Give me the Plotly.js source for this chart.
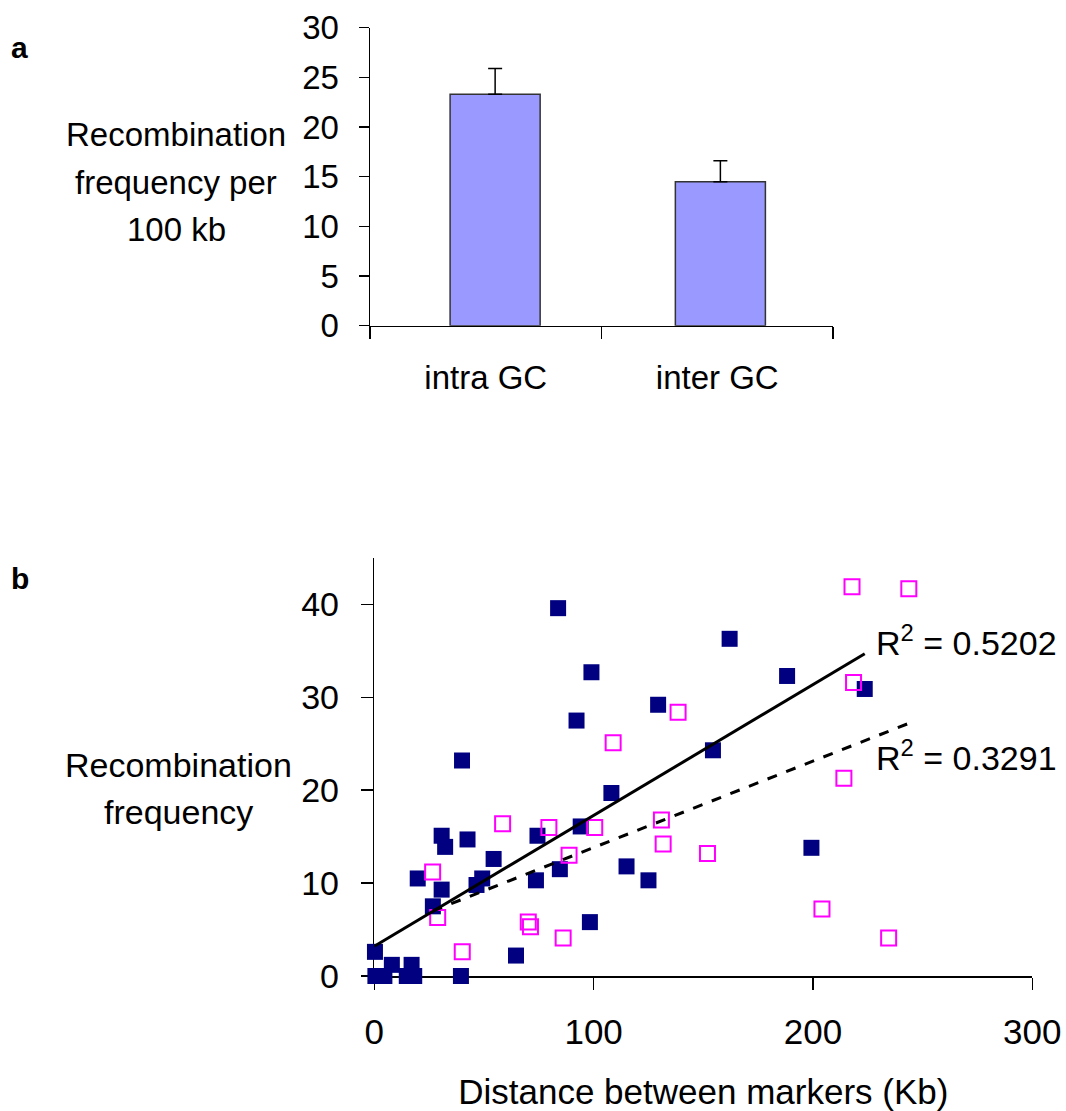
<!DOCTYPE html>
<html>
<head>
<meta charset="utf-8">
<script src="https://cdn.plot.ly/plotly-3.0.1.min.js"></script>
<style>
  html, body { margin: 0; padding: 0; background: #ffffff; }
  #chart { width: 1066px; height: 1111px; }
</style>
</head>
<body>
<div id="chart"></div>
<script>
// ---- Panel a: bar chart data ----
var barCategories = ['intra GC', 'inter GC'];
var barValues = [23.3, 14.5];
var barErrors = [2.6, 2.1];

// ---- Panel b: scatter data ----
var intraX = [83.8, 99.0, 129.4, 92.2, 40.0, 108.1, 30.7, 32.3, 42.5, 74.4, 94.1, 54.4,
              19.8, 30.7, 49.2, 46.6, 73.7, 84.6, 115.0, 125.0, 26.7, 98.3, 64.6, 0.3,
              0.5, 4.6, 8.0, 17.0, 14.8, 18.2, 39.5,
              162.0, 188.2, 223.6, 154.4, 199.3];
var intraY = [39.6, 32.7, 29.2, 27.5, 23.2, 19.7, 15.1, 13.9, 14.7, 15.1, 16.1, 12.6,
              10.5, 9.3, 10.5, 9.8, 10.3, 11.5, 11.8, 10.3, 7.5, 5.8, 2.2, 2.6,
              0, 0, 1.2, 1.2, 0, 0, 0,
              36.3, 32.3, 30.9, 24.3, 13.8];

var interX = [138.5, 108.9, 58.5, 79.6, 100.5, 88.8, 26.6, 28.9, 70.2, 71.2, 86.1,
              40.1, 130.9, 131.7, 217.8, 243.7, 218.5, 214.1, 151.9, 204.1, 234.5];
var interY = [28.4, 25.1, 16.4, 16.0, 16.0, 13.0, 11.2, 6.3, 5.8, 5.3, 4.1,
              2.6, 16.8, 14.2, 41.9, 41.7, 31.6, 21.3, 13.2, 7.2, 4.1];

// trend lines (end points)
var intraTrendX = [0, 223.6];
var intraTrendY = [3.2, 34.7];
var interTrendX = [26.6, 243.7];
var interTrendY = [7.0, 27.2];

var r2Labels = ['R<sup>2</sup> = 0.5202', 'R<sup>2</sup> = 0.3291'];

var FONT = 'Liberation Sans, Arial, Helvetica, sans-serif';

var traces = [
  {
    type: 'bar', x: barCategories, y: barValues, xaxis: 'x', yaxis: 'y',
    width: 0.389, offset: [-0.154, -0.181],
    marker: { color: '#9999FF', line: { color: '#333333', width: 1.5 } },
    error_y: { type: 'data', symmetric: false, array: barErrors, arrayminus: [0, 0],
               color: '#000000', thickness: 1.5, width: 7 },
    showlegend: false, hoverinfo: 'skip'
  },
  {
    type: 'scatter', mode: 'markers', x: intraX, y: intraY, xaxis: 'x2', yaxis: 'y2',
    marker: { symbol: 'square', size: 16, color: '#000080', line: { width: 0 } },
    cliponaxis: false, showlegend: false, hoverinfo: 'skip'
  },
  {
    type: 'scatter', mode: 'markers', x: interX, y: interY, xaxis: 'x2', yaxis: 'y2',
    marker: { symbol: 'square-open', size: 15, color: '#FF00FF', line: { width: 2, color: '#FF00FF' } },
    cliponaxis: false, showlegend: false, hoverinfo: 'skip'
  },
  {
    type: 'scatter', mode: 'lines', x: intraTrendX, y: intraTrendY, xaxis: 'x2', yaxis: 'y2',
    line: { color: '#000000', width: 3 }, showlegend: false, hoverinfo: 'skip'
  },
  {
    type: 'scatter', mode: 'lines', x: interTrendX, y: interTrendY, xaxis: 'x2', yaxis: 'y2',
    line: { color: '#000000', width: 3, dash: '10px,10px' }, showlegend: false, hoverinfo: 'skip'
  }
];

var axisCommon = {
  showline: true, linecolor: '#000000', linewidth: 1.5,
  ticks: 'outside', tickcolor: '#000000', tickwidth: 1.5,
  showgrid: false, zeroline: false, fixedrange: true
};

function ax(extra) { return Object.assign({}, axisCommon, extra); }

var W = 1066, H = 1111;
function px(x) { return x / W; }
function py(y) { return 1 - y / H; }

var layout = {
  width: W, height: H,
  margin: { l: 0, r: 0, t: 0, b: 0 },
  paper_bgcolor: '#ffffff', plot_bgcolor: 'rgba(0,0,0,0)',
  font: { family: FONT, color: '#000000' },
  showlegend: false,
  xaxis: ax({
    domain: [px(370), px(833)], anchor: 'y', type: 'category',
    range: [-0.5, 1.5], tickson: 'boundaries', ticklen: 12,
    tickfont: { family: FONT, size: 33, color: '#000000' }, ticklabelstandoff: 22
  }),
  yaxis: ax({
    domain: [py(325.7), py(27.7)], anchor: 'x',
    range: [0, 30], dtick: 5, tick0: 0, ticklen: 10,
    tickfont: { family: FONT, size: 33, color: '#000000' }, ticklabelstandoff: 13
  }),
  xaxis2: ax({
    domain: [px(374.3), px(1032.3)], anchor: 'y2',
    range: [0, 300], dtick: 100, tick0: 0, ticklen: 12, layer: 'below traces',
    tickfont: { family: FONT, size: 35, color: '#000000' }, ticklabelstandoff: 12,
    title: { text: 'Distance between markers (Kb)', font: { family: FONT, size: 35, color: '#000000' }, standoff: 34 }
  }),
  yaxis2: ax({
    domain: [py(976), py(558)], anchor: 'x2',
    range: [0, 45], dtick: 10, tick0: 0, ticklen: 12, layer: 'below traces',
    tickfont: { family: FONT, size: 34, color: '#000000' }, ticklabelstandoff: 15
  }),
  annotations: [
    { text: '<b>a</b>', xref: 'paper', yref: 'paper', x: px(19), y: py(47), xanchor: 'center', yanchor: 'middle',
      showarrow: false, font: { family: FONT, size: 30, color: '#000000' } },
    { text: '<b>b</b>', xref: 'paper', yref: 'paper', x: px(20), y: py(578), xanchor: 'center', yanchor: 'middle',
      showarrow: false, font: { family: FONT, size: 30, color: '#000000' } },

    { text: 'Recombination', xref: 'paper', yref: 'paper', x: px(176), y: py(135), xanchor: 'center', yanchor: 'middle',
      showarrow: false, font: { family: FONT, size: 33, color: '#000000' } },
    { text: 'frequency per', xref: 'paper', yref: 'paper', x: px(176), y: py(182), xanchor: 'center', yanchor: 'middle',
      showarrow: false, font: { family: FONT, size: 33, color: '#000000' } },
    { text: '100 kb', xref: 'paper', yref: 'paper', x: px(176), y: py(229), xanchor: 'center', yanchor: 'middle',
      showarrow: false, font: { family: FONT, size: 33, color: '#000000' } },

    { text: 'Recombination', xref: 'paper', yref: 'paper', x: px(178), y: py(765), xanchor: 'center', yanchor: 'middle',
      showarrow: false, font: { family: FONT, size: 34, color: '#000000' } },
    { text: 'frequency', xref: 'paper', yref: 'paper', x: px(178), y: py(812), xanchor: 'center', yanchor: 'middle',
      showarrow: false, font: { family: FONT, size: 34, color: '#000000' } },

    { text: r2Labels[0], xref: 'paper', yref: 'paper', x: px(874), y: py(640), xanchor: 'left', yanchor: 'middle',
      showarrow: false, font: { family: FONT, size: 34, color: '#000000' } },
    { text: r2Labels[1], xref: 'paper', yref: 'paper', x: px(874), y: py(755), xanchor: 'left', yanchor: 'middle',
      showarrow: false, font: { family: FONT, size: 34, color: '#000000' } }
  ]
};

Plotly.newPlot('chart', traces, layout, { staticPlot: true, displayModeBar: false });
</script>
</body>
</html>
